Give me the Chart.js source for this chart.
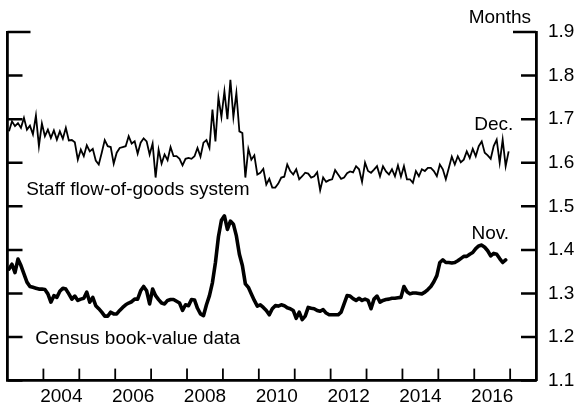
<!DOCTYPE html>
<html>
<head>
<meta charset="utf-8">
<script src="https://cdn.jsdelivr.net/npm/chart.js@4.4.1/dist/chart.umd.min.js"></script>
<style>
  html, body { margin: 0; padding: 0; background: #fff; }
  #wrap { width: 575px; height: 404px; }
</style>
</head>
<body>
<div id="wrap"><canvas id="c" width="575" height="404"></canvas></div>
<script>
// ---- Data (monthly, Jan 2003 onward) ----
const startYear = 2003;
const staffFlow = [
  1.672,1.695,1.684,1.691,1.680,1.703,1.676,1.685,1.665,1.708,1.638,1.690, // 2003
  1.661,1.676,1.657,1.674,1.653,1.672,1.655,1.680,1.651,1.652,1.647,1.607, // 2004
  1.630,1.615,1.640,1.626,1.632,1.605,1.596,1.623,1.652,1.638,1.636,1.598, // 2005
  1.623,1.634,1.636,1.638,1.661,1.644,1.649,1.621,1.646,1.656,1.649,1.619, // 2006
  1.644,1.566,1.630,1.598,1.619,1.606,1.636,1.615,1.615,1.609,1.594,1.609, // 2007
  1.611,1.609,1.615,1.634,1.614,1.646,1.652,1.634,1.722,1.649,1.750,1.705, // 2008
  1.764,1.700,1.790,1.705,1.760,1.672,1.668,1.566,1.632,1.607,1.617,1.573, // 2009
  1.577,1.586,1.550,1.563,1.543,1.543,1.552,1.566,1.568,1.596,1.581,1.573, // 2010
  1.585,1.562,1.569,1.577,1.575,1.566,1.569,1.578,1.537,1.566,1.556,1.560, // 2011
  1.562,1.583,1.573,1.563,1.566,1.576,1.580,1.578,1.592,1.585,1.556,1.600, // 2012
  1.581,1.577,1.584,1.592,1.569,1.592,1.580,1.573,1.585,1.569,1.594,1.568, // 2013
  1.592,1.562,1.562,1.554,1.581,1.569,1.585,1.581,1.588,1.588,1.581,1.569, // 2014
  1.596,1.585,1.562,1.588,1.614,1.596,1.615,1.601,1.607,1.626,1.611,1.632, // 2015
  1.615,1.638,1.649,1.623,1.617,1.609,1.638,1.653,1.600,1.653,1.592,1.626  // 2016 (Dec.)
];
const censusBook = [
  1.356,1.367,1.348,1.379,1.364,1.345,1.326,1.316,1.314,1.312,1.310,1.310, // 2003
  1.309,1.299,1.280,1.295,1.291,1.305,1.312,1.310,1.299,1.287,1.294,1.284, // 2004
  1.287,1.289,1.303,1.280,1.291,1.272,1.265,1.257,1.248,1.248,1.257,1.253, // 2005
  1.253,1.261,1.268,1.274,1.278,1.281,1.287,1.287,1.306,1.316,1.306,1.276, // 2006
  1.310,1.295,1.286,1.278,1.276,1.284,1.286,1.286,1.282,1.278,1.261,1.274, // 2007
  1.272,1.286,1.285,1.266,1.253,1.249,1.274,1.295,1.325,1.371,1.430,1.468, // 2008
  1.478,1.447,1.466,1.459,1.432,1.390,1.364,1.322,1.314,1.299,1.284,1.271, // 2009
  1.274,1.268,1.261,1.251,1.265,1.272,1.271,1.274,1.272,1.267,1.265,1.261, // 2010
  1.243,1.257,1.240,1.248,1.268,1.266,1.265,1.261,1.259,1.263,1.255,1.251, // 2011
  1.251,1.251,1.251,1.257,1.276,1.295,1.294,1.288,1.284,1.289,1.284,1.287, // 2012
  1.284,1.265,1.287,1.294,1.280,1.284,1.286,1.287,1.289,1.289,1.290,1.291, // 2013
  1.316,1.304,1.299,1.301,1.301,1.300,1.299,1.303,1.309,1.316,1.327,1.341, // 2014
  1.371,1.377,1.371,1.371,1.370,1.371,1.375,1.380,1.385,1.385,1.390,1.394, // 2015
  1.403,1.409,1.411,1.406,1.398,1.386,1.392,1.390,1.380,1.371,1.377        // 2016 (Nov.)
];
const xLabelYears = [2004, 2006, 2008, 2010, 2012, 2014, 2016];
const xTickLabels = ['2004', '2006', '2008', '2010', '2012', '2014', '2016'];
const xTickYears = [2004,2005,2006,2007,2008,2009,2010,2011,2012,2013,2014,2015,2016,2017];
const yTicks = [1.1, 1.2, 1.3, 1.4, 1.5, 1.6, 1.7, 1.8, 1.9];
const yTickLabels = ['1.1','1.2','1.3','1.4','1.5','1.6','1.7','1.8','1.9'];
const unitLabel = 'Months';
const seriesNames = ['Staff flow-of-goods system', 'Census book-value data'];
const endLabels = ['Dec.', 'Nov.'];

const toPoints = arr => arr.map((v, i) => ({ x: startYear + (i + 0.5) / 12, y: v }));

const FONT = '"Liberation Sans", Arial, Helvetica, sans-serif';

const decor = {
  id: 'decor',
  afterDatasetsDraw(chart) {
    const { ctx, chartArea: a, scales } = chart;
    const xs = scales.x, ys = scales.y;
    ctx.save();
    ctx.strokeStyle = '#000';
    ctx.lineCap = 'butt';
    // y ticks, inward on both sides
    ctx.lineWidth = 2.5;
    yTicks.forEach((v, k) => {
      const y = ys.getPixelForValue(v);
      const len = (k === yTicks.length - 1) ? 23 : 15;
      ctx.beginPath();
      ctx.moveTo(a.left, y); ctx.lineTo(a.left + len, y);
      ctx.moveTo(a.right - len, y); ctx.lineTo(a.right, y);
      ctx.stroke();
    });
    // x ticks, inward
    ctx.lineWidth = 1.8;
    xTickYears.forEach(yr => {
      const x = xs.getPixelForValue(yr);
      ctx.beginPath();
      ctx.moveTo(x, a.bottom); ctx.lineTo(x, a.bottom - 12);
      ctx.stroke();
    });
    // text labels
    ctx.fillStyle = '#000';
    ctx.font = '19px ' + FONT;
    ctx.textBaseline = 'alphabetic';
    ctx.textAlign = 'left';
    ctx.fillText(seriesNames[0], xs.getPixelForValue(2003.52), ys.getPixelForValue(1.527));
    ctx.fillText(seriesNames[1], xs.getPixelForValue(2003.77), ys.getPixelForValue(1.1846));
    ctx.textAlign = 'right';
    ctx.fillText(endLabels[0], xs.getPixelForValue(2017.09), ys.getPixelForValue(1.676));
    ctx.fillText(endLabels[1], xs.getPixelForValue(2016.97), ys.getPixelForValue(1.4246));
    ctx.fillText(unitLabel, a.right - 5, a.top - 9);
    ctx.restore();
  }
};

new Chart(document.getElementById('c'), {
  type: 'line',
  data: {
    datasets: [
      { label: seriesNames[0], data: toPoints(staffFlow), borderColor: '#000', borderWidth: 1.8,
        pointRadius: 0, tension: 0, fill: false, borderJoinStyle: 'miter' },
      { label: seriesNames[1], data: toPoints(censusBook), borderColor: '#000', borderWidth: 3.6,
        pointRadius: 0, tension: 0, fill: false, borderJoinStyle: 'round', borderCapStyle: 'round' }
    ]
  },
  options: {
    responsive: false,
    animation: false,
    events: [],
    layout: { padding: { top: 32, left: 0, right: 0, bottom: 0 } },
    plugins: { legend: { display: false }, tooltip: { enabled: false }, title: { display: false } },
    scales: {
      x: {
        type: 'linear', min: 2003, max: 2017.72,
        grid: { display: false, drawTicks: false },
        border: { display: true, color: '#000', width: 2.8 },
        afterBuildTicks: s => { s.ticks = xLabelYears.map(y => ({ value: y + 0.5 })); },
        afterFit: s => { s.height = 22; },
        ticks: {
          autoSkip: false, maxRotation: 0, padding: 5, color: '#000',
          font: { size: 19, family: FONT },
          callback: (v) => { const k = xLabelYears.indexOf(Math.round(v - 0.5)); return k >= 0 ? xTickLabels[k] : ''; }
        }
      },
      y: {
        type: 'linear', position: 'right', min: 1.1, max: 1.9,
        grid: { display: false, drawTicks: false },
        border: { display: true, color: '#000', width: 2.8 },
        afterBuildTicks: s => { s.ticks = yTicks.map(v => ({ value: v })); },
        afterFit: s => { s.width = 39; },
        ticks: {
          padding: 12, color: '#000', font: { size: 19, family: FONT },
          callback: (v) => { const k = yTicks.findIndex(t => Math.abs(t - v) < 1e-6); return k >= 0 ? yTickLabels[k] : ''; }
        }
      },
      yL: {
        type: 'linear', position: 'left', min: 1.1, max: 1.9,
        grid: { display: false, drawTicks: false },
        border: { display: true, color: '#000', width: 2.8 },
        ticks: { display: false },
        afterFit: s => { s.width = 7.5; }
      }
    }
  },
  plugins: [decor]
});
</script>
</body>
</html>
